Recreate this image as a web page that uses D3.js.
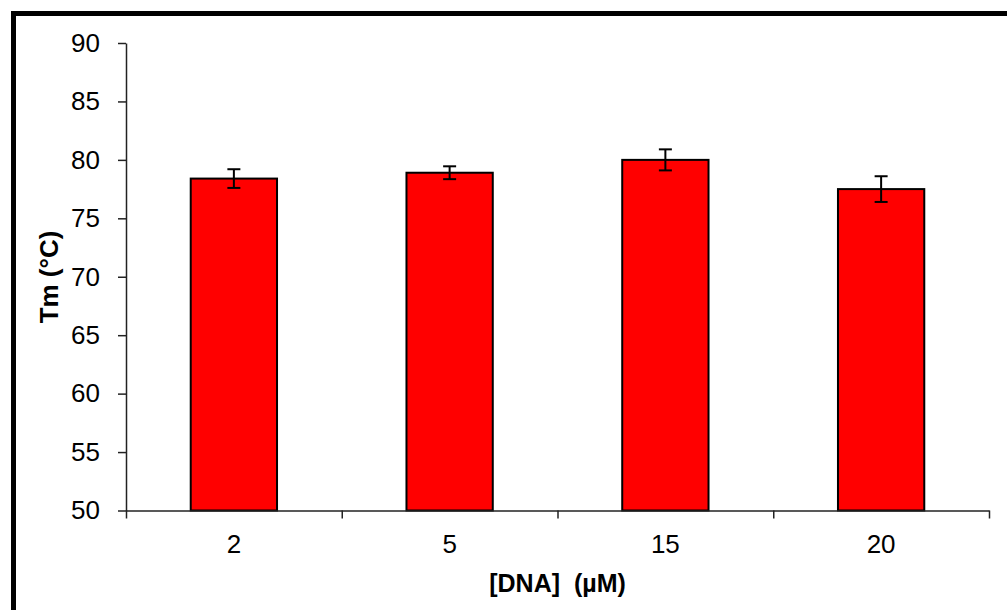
<!DOCTYPE html>
<html>
<head>
<meta charset="utf-8">
<script src="https://cdn.jsdelivr.net/npm/d3@7"></script>
<style>
  body { margin: 0; background: #fff; }
  svg { display: block; }
</style>
</head>
<body>
<div id="chart"></div>
<script>
// ----------------------------------
// DATA
// ----------------------------------
const categories = ['2', '5', '15', '20'];
const tmValues = [78.4, 78.9, 80.0, 77.5];
const tmErrors = [0.8, 0.55, 0.9, 1.1];
const yTicks = [50, 55, 60, 65, 70, 75, 80, 85, 90];

const width = 1007,
      height = 610,
      margin = {top: 43, right: 18, bottom: 99.5, left: 126},
      innerWidth = width - margin.left - margin.right,
      innerHeight = height - margin.top - margin.bottom;

const svg = d3.select('#chart')
  .append('svg')
  .attr('width', width)
  .attr('height', height)
  .style('font-family', 'Arial, "Liberation Sans", sans-serif');

// outer frame (runs off the right and bottom edges)
svg.append('rect')
  .attr('x', 13.5)
  .attr('y', 13.5)
  .attr('width', 1010)
  .attr('height', 620)
  .attr('fill', 'none')
  .attr('stroke', '#000')
  .attr('stroke-width', 5);

// ----------------------------------
// SCALES
// ----------------------------------
const xScale = d3.scaleBand()
  .domain(categories)
  .range([0, innerWidth])
  .paddingInner(0.6)
  .paddingOuter(0.3);

const xEdge = d3.scaleLinear()
  .domain([0, categories.length])
  .range([0, innerWidth]);

const yScale = d3.scaleLinear()
  .domain([50, 90])
  .range([innerHeight, 0]);

const g = svg.append('g')
  .attr('transform', `translate(${margin.left}, ${margin.top})`);

// ----------------------------------
// BARS + ERROR BARS
// ----------------------------------
g.selectAll('rect.bar')
  .data(tmValues)
  .join('rect')
  .attr('class', 'bar')
  .attr('x', (d, i) => xScale(categories[i]))
  .attr('y', d => yScale(d))
  .attr('width', xScale.bandwidth())
  .attr('height', d => yScale(50) - yScale(d))
  .attr('fill', '#ff0000')
  .attr('stroke', '#000')
  .attr('stroke-width', 2);

const errG = g.append('g')
  .attr('stroke', '#000')
  .attr('stroke-width', 2);

tmValues.forEach((v, i) => {
  const cx = xScale(categories[i]) + xScale.bandwidth() / 2,
        y1 = yScale(v + tmErrors[i]),
        y2 = yScale(v - tmErrors[i]);
  errG.append('line').attr('x1', cx).attr('x2', cx).attr('y1', y1).attr('y2', y2);
  errG.append('line').attr('x1', cx - 6.5).attr('x2', cx + 6.5).attr('y1', y1).attr('y2', y1);
  errG.append('line').attr('x1', cx - 6.5).attr('x2', cx + 6.5).attr('y1', y2).attr('y2', y2);
});

// ----------------------------------
// AXES
// ----------------------------------
const yAxis = g.append('g')
  .call(d3.axisLeft(yScale).tickValues(yTicks).tickSize(8).tickPadding(18).tickSizeOuter(0));

const xAxis = g.append('g')
  .attr('transform', `translate(0, ${innerHeight})`)
  .call(d3.axisBottom(xEdge).tickValues(d3.range(categories.length + 1)).tickSize(8).tickSizeOuter(0));

// only the tick marks on x, labels go under the bars
xAxis.selectAll('.tick text').remove();

[yAxis, xAxis].forEach(ax => {
  ax.select('.domain').attr('stroke', '#222').attr('stroke-width', 1.5);
  ax.selectAll('.tick line').attr('stroke', '#222').attr('stroke-width', 1.5);
});

yAxis.selectAll('.tick text')
  .attr('font-size', 26)
  .attr('fill', '#000')
  .attr('font-family', 'Arial, "Liberation Sans", sans-serif');

// category labels centred under bars
g.append('g')
  .selectAll('text')
  .data(categories)
  .join('text')
  .attr('x', d => xScale(d) + xScale.bandwidth() / 2)
  .attr('y', innerHeight + 42)
  .attr('text-anchor', 'middle')
  .attr('font-size', 26)
  .text(d => d);

// ----------------------------------
// AXIS TITLES
// ----------------------------------
svg.append('text')
  .attr('x', margin.left + innerWidth / 2)
  .attr('y', 592)
  .attr('text-anchor', 'middle')
  .attr('font-size', 25)
  .attr('font-weight', 'bold')
  .style('white-space', 'pre')
  .text('[DNA]  (µM)');

svg.append('text')
  .attr('transform', `translate(58, 277) rotate(-90)`)
  .attr('text-anchor', 'middle')
  .attr('font-size', 26)
  .attr('font-weight', 'bold')
  .text('Tm (°C)');
</script>
</body>
</html>
